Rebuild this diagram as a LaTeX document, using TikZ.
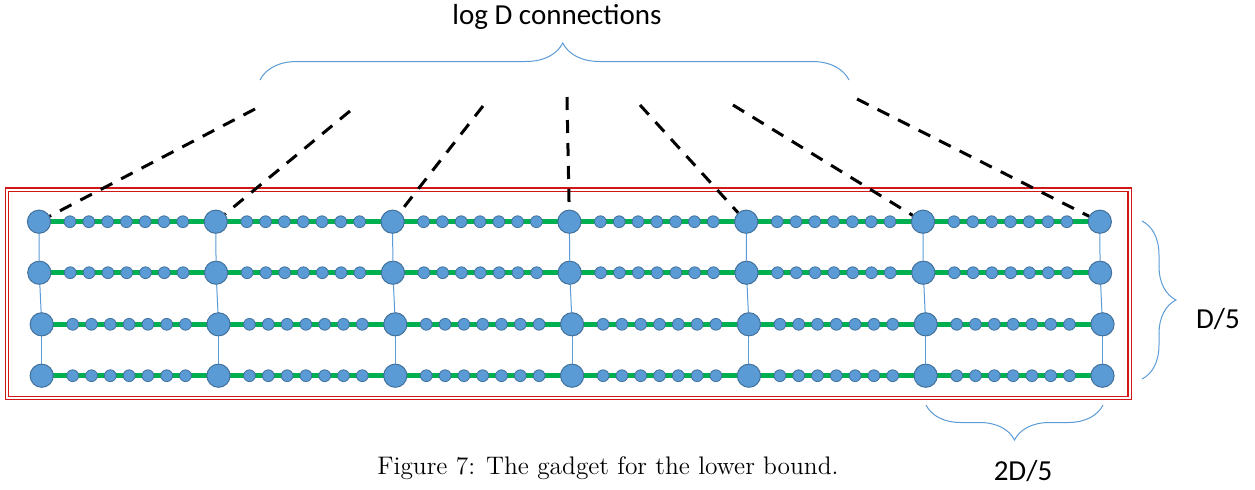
\documentclass[tikz,border=0pt]{standalone}
\usepackage{fontspec}
\newfontfamily\calib{Carlito}
\usetikzlibrary{decorations.pathreplacing,backgrounds}
\definecolor{nodeblue}{HTML}{5B9BD5}
\definecolor{nodeedge}{HTML}{41719C}
\definecolor{wire}{HTML}{00B050}
\definecolor{boxred}{HTML}{D01818}
\tikzset{
  hub/.style={circle,fill=nodeblue,draw=nodeedge,line width=0.5pt,minimum size=11.6pt,inner sep=0pt},
  bead/.style={circle,fill=nodeblue,draw=nodeedge,line width=0.4pt,minimum size=5.9pt,inner sep=0pt},
  link/.style={black,line width=1.5pt,dash pattern=on 6.5pt off 5pt},
  rung/.style={nodeblue,line width=0.5pt},
  curly/.style={nodeblue,line width=0.5pt,decorate,decoration={brace,amplitude=#1}},
  lbl/.style={font=\calib\fontsize{14.5}{17}\selectfont,anchor=base,inner sep=0pt}
}

\begin{document}
\begin{tikzpicture}[x=0.5pt,y=-0.5pt]
\useasboundingbox (0,0) rectangle (1255,489);
% the four rows of the gadget
\foreach \r/\y/\dx in {1/221.7/0,2/272.7/0.3,3/324.3/2.7,4/375.7/2.7}{
	\foreach \c in {1,...,7}{
		\node[hub] (b-\r-\c) at ({39+\dx+(\c-1)*176.8},\y) {};
	}
	\foreach \c in {1,...,6}{
		\foreach \k in {1,...,7}{
			\node[bead] (s-\r-\c-\k) at ({39+\dx+(\c-1)*176.8+12.2+18.8*\k},\y) {};
		}
	}
}
\begin{scope}[on background layer]
\foreach \r in {1,...,4}{
	\draw[wire,line width=2.3pt] (b-\r-1.center)--(b-\r-7.center);
}
\end{scope}
\foreach \r [count=\rn from 2] in {1,2,3}{
	\foreach \c in {1,...,7}{
		\draw[rung] (b-\r-\c)--(b-\rn-\c);
	}
}
% frame
\draw[boxred,double,line width=0.55pt,double distance=1pt] (7,189.5) rectangle (1129.5,398);
% connections going up
\foreach \c/\tx/\ty in {1/255/109,2/350/111,3/483/106,4/567/97,5/640/105,6/733/105,7/857/99}{
	\coordinate (t\c) at (\tx,\ty);
	\draw[link] (t\c)--(b-1-\c);
}
% braces and labels
\draw[curly=18.5pt,decoration={aspect=0.514}] (260,80)--(849,80);
\draw[curly=17pt] (1142,221)--(1142,379);
\draw[curly=17.5pt] (1103,405)--(926,405);
\node[lbl] (conn) at (557,24) {log D connections};
\node[lbl] (height) at (1218,328) {D/5};
\node[lbl] (width) at (1023,480) {2D/5};
\node[anchor=base west,inner sep=0pt,font=\fontsize{12.7}{15}\selectfont] (caption) at (377,474) {Figure 7: The gadget for the lower bound.};
\end{tikzpicture}
\end{document}
